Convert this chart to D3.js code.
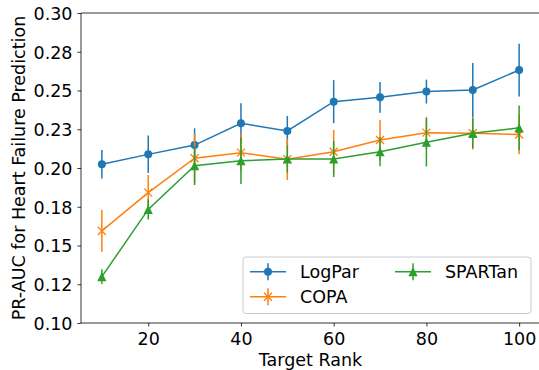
<!DOCTYPE html>
<html>
<head>
<meta charset="utf-8">
<script src="https://cdn.jsdelivr.net/npm/d3@7"></script>
<style>
  html, body { margin: 0; padding: 0; background: #fff; }
  svg { display: block; font-family: "DejaVu Sans", sans-serif; }
</style>
</head>
<body>
<svg id="chart" width="539" height="370"></svg>
<script>
// ---- data ----
const ranks = [10, 20, 30, 40, 50, 60, 70, 80, 90, 100];
const logparMean = [0.2024, 0.2088, 0.2148, 0.2288, 0.2239, 0.2428, 0.2456, 0.2493, 0.2503, 0.2632];
const logparErr  = [0.0092, 0.0121, 0.0108, 0.0129, 0.0097, 0.0139, 0.0099, 0.0077, 0.0174, 0.0170];
const copaMean   = [0.1594, 0.1841, 0.2063, 0.2099, 0.2056, 0.2105, 0.2181, 0.2228, 0.2224, 0.2216];
const copaErr    = [0.0135, 0.0114, 0.0160, 0.0120, 0.0134, 0.0140, 0.0129, 0.0101, 0.0105, 0.0127];
const spartanMean = [0.1299, 0.1733, 0.2015, 0.2047, 0.2058, 0.2058, 0.2105, 0.2166, 0.2224, 0.2259];
const spartanErr  = [0.0048, 0.0065, 0.0125, 0.0150, 0.0087, 0.0116, 0.0094, 0.0156, 0.0097, 0.0145];
const seriesNames = ["LogPar", "COPA", "SPARTan"];
const xTicks = [20, 40, 60, 80, 100];
const yTicks = [0.100, 0.125, 0.150, 0.175, 0.200, 0.225, 0.250, 0.275, 0.300];
const yTickLabels = ["0.10", "0.12", "0.15", "0.18", "0.20", "0.23", "0.25", "0.28", "0.30"];

// ---- layout ----
const colors = ["#1f77b4", "#ff7f0e", "#2ca02c"];
const markers = ["circle", "x", "triangle"];
const fs = 17.5;
const L = 81, R = 540, T = 13, B = 323;

const svg = d3.select("#chart");
const x = d3.scaleLinear().domain([5.5, 104.5]).range([L, R]);
const y = d3.scaleLinear().domain([0.1, 0.3]).range([B, T]);

const series = [
  { name: seriesNames[0], mean: logparMean, err: logparErr },
  { name: seriesNames[1], mean: copaMean, err: copaErr },
  { name: seriesNames[2], mean: spartanMean, err: spartanErr }
];

function drawMarker(g, type, cx, cy, color) {
  if (type === "circle") {
    g.append("circle").attr("cx", cx).attr("cy", cy).attr("r", 4).attr("fill", color);
  } else if (type === "x") {
    const s = 4;
    g.append("path")
      .attr("d", `M${cx - s},${cy - s}L${cx + s},${cy + s}M${cx - s},${cy + s}L${cx + s},${cy - s}`)
      .attr("stroke", color).attr("stroke-width", 1.3).attr("fill", "none");
  } else {
    const s = 4.6;
    g.append("path")
      .attr("d", `M${cx},${cy - s}L${cx + s},${cy + s}L${cx - s},${cy + s}Z`)
      .attr("fill", color);
  }
}

const plot = svg.append("g");
series.forEach((s, i) => {
  const g = plot.append("g");
  const pts = ranks.map((r, k) => ({ r, m: s.mean[k], e: s.err[k] }));
  // error bars
  g.selectAll("line.err").data(pts).enter().append("line")
    .attr("x1", d => x(d.r)).attr("x2", d => x(d.r))
    .attr("y1", d => y(d.m - d.e)).attr("y2", d => y(d.m + d.e))
    .attr("stroke", colors[i]).attr("stroke-width", 1.5);
  // line
  g.append("path").datum(pts)
    .attr("d", d3.line().x(d => x(d.r)).y(d => y(d.m)))
    .attr("fill", "none").attr("stroke", colors[i]).attr("stroke-width", 1.5);
  pts.forEach(d => drawMarker(g, markers[i], x(d.r), y(d.m), colors[i]));
});

// ---- axes ----
const ax = svg.append("g").attr("transform", `translate(0,${B})`)
  .call(d3.axisBottom(x).tickValues(xTicks).tickSize(3.5).tickPadding(3.5).tickFormat(d3.format("d")));
const ay = svg.append("g").attr("transform", `translate(${L},0)`)
  .call(d3.axisLeft(y).tickValues(yTicks).tickSize(3.5).tickPadding(3.5).tickFormat((d, k) => yTickLabels[k]));
[ax, ay].forEach(a => {
  a.select(".domain").remove();
  a.selectAll(".tick line").attr("stroke", "#000").attr("stroke-width", 0.8);
  a.selectAll(".tick text").attr("fill", "#000").style("font-size", fs + "px")
    .style("font-family", "'DejaVu Sans', sans-serif");
});
ax.selectAll(".tick text").attr("dy", null).attr("y", 22.3);
ay.selectAll(".tick text").attr("dy", "0.36em").attr("x", -8.5);

// spines
svg.append("line").attr("x1", L).attr("x2", L).attr("y1", T).attr("y2", B).attr("stroke", "#000").attr("stroke-width", 0.8);
svg.append("line").attr("x1", L).attr("x2", R).attr("y1", B).attr("y2", B).attr("stroke", "#000").attr("stroke-width", 0.8);
svg.append("line").attr("x1", L).attr("x2", R).attr("y1", T).attr("y2", T).attr("stroke", "#000").attr("stroke-width", 0.8);
svg.append("line").attr("x1", R).attr("x2", R).attr("y1", T).attr("y2", B).attr("stroke", "#000").attr("stroke-width", 0.8);

// axis labels
svg.append("text").attr("x", (L + R) / 2).attr("y", 365.5).attr("text-anchor", "middle")
  .style("font-size", fs + "px").attr("fill", "#000").text("Target Rank");
svg.append("text").attr("transform", `translate(25,${(T + B) / 2}) rotate(-90)`).attr("text-anchor", "middle")
  .style("font-size", fs + "px").attr("fill", "#000").text("PR-AUC for Heart Failure Prediction");

// ---- legend ----
const leg = svg.append("g");
leg.append("rect").attr("x", 243).attr("y", 257).attr("width", 288).attr("height", 56.5)
  .attr("rx", 3).attr("fill", "#fff").attr("fill-opacity", 0.8).attr("stroke", "#ccc").attr("stroke-width", 1);
const legPos = [
  { hx: 250, ty: 271.7 },
  { hx: 250, ty: 296.7 },
  { hx: 395, ty: 271.7 }
];
series.forEach((s, i) => {
  const p = legPos[i];
  const g = leg.append("g");
  const hx0 = p.hx, hx1 = p.hx + 36, cx = (hx0 + hx1) / 2;
  g.append("line").attr("x1", hx0).attr("x2", hx1).attr("y1", p.ty).attr("y2", p.ty)
    .attr("stroke", colors[i]).attr("stroke-width", 1.5);
  g.append("line").attr("x1", cx).attr("x2", cx).attr("y1", p.ty - 8.5).attr("y2", p.ty + 8.5)
    .attr("stroke", colors[i]).attr("stroke-width", 1.5);
  drawMarker(g, markers[i], cx, p.ty, colors[i]);
  g.append("text").attr("x", hx1 + 14).attr("y", p.ty).attr("dy", "0.36em")
    .style("font-size", fs + "px").attr("fill", "#000").text(s.name);
});
</script>
</body>
</html>
